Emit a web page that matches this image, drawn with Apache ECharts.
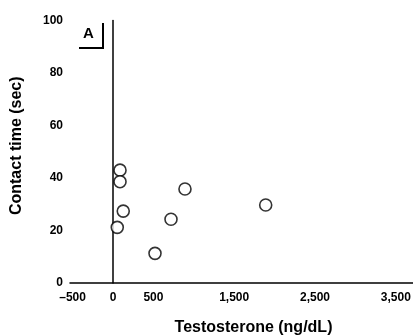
<!DOCTYPE html>
<html><head><meta charset="utf-8">
<script src="https://cdn.jsdelivr.net/npm/echarts@6/dist/echarts.min.js"></script>
<style>html,body{margin:0;padding:0;background:#fff}#c{width:413px;height:336px}</style>
</head><body><div id="c"></div>
<script>
// Data (testosterone ng/dL, contact time sec)
const testosterone = [87, 87, 891, 1890, 127, 718, 53, 520];
const contactTime = [43.0, 38.6, 35.8, 29.7, 27.4, 24.3, 21.2, 11.3];
const xTickValues = [-500, 0, 500, 1500, 2500, 3500];
const yTickValues = [0, 20, 40, 60, 80, 100];
const panelLabel = 'A';

const font = '"Liberation Sans Narrow", "Liberation Sans", Arial, sans-serif';
const chart = echarts.init(document.getElementById('c'), null, {renderer: 'canvas'});
chart.setOption({
  backgroundColor: '#fff',
  animation: false,
  grid: {left: 70, right: 0, top: 20.5, bottom: 53, containLabel: false, outerBoundsMode: 'none'},
  xAxis: {
    type: 'value', min: -532, max: 3713,
    splitLine: {show: false},
    axisLine: {show: true, onZero: false, lineStyle: {color: '#000', width: 1.5}},
    axisTick: {show: false},
    axisLabel: {
      customValues: xTickValues, color: '#000', fontFamily: font, fontWeight: 'bold', fontSize: 12, margin: 9,
      formatter: v => v.toLocaleString('en-US').replace('-', '\u2013')
    },
    name: 'Testosterone (ng/dL)', nameLocation: 'middle', nameGap: 37,
    nameTextStyle: {color: '#000', fontFamily: font, fontWeight: 'bold', fontSize: 16, padding: [0, 0, 0, 24]}
  },
  yAxis: {
    type: 'value', min: 0, max: 100,
    splitLine: {show: false},
    axisLine: {show: true, lineStyle: {color: '#000', width: 1.5}},
    axisTick: {show: false},
    axisLabel: {customValues: yTickValues, color: '#000', fontFamily: font, fontWeight: 'bold', fontSize: 12, margin: 7},
    name: 'Contact time (sec)', nameLocation: 'middle', nameGap: 45, nameRotate: 90,
    nameTextStyle: {color: '#000', fontFamily: font, fontWeight: 'bold', fontSize: 16, padding: [0, 0, 0, 12]}
  },
  series: [{
    type: 'scatter',
    data: testosterone.map((x, i) => [x, contactTime[i]]),
    symbol: 'circle', symbolSize: 12,
    itemStyle: {color: '#fff', borderColor: '#000', borderWidth: 1.6},
    markLine: {
      silent: true, symbol: 'none', label: {show: false},
      lineStyle: {color: '#000', width: 1.5, type: 'solid'},
      data: [[{coord: [0, 0]}, {coord: [0, 101]}]]
    },
    z: 3
  }],
  graphic: [
    {type: 'text', left: 83, top: 26, style: {text: panelLabel, fill: '#000', font: 'bold 15px ' + font}},
    {type: 'polyline', shape: {points: [[79, 48], [103, 48], [103, 23]]}, style: {stroke: '#000', lineWidth: 2, fill: null}}
  ]
});
</script></body></html>
